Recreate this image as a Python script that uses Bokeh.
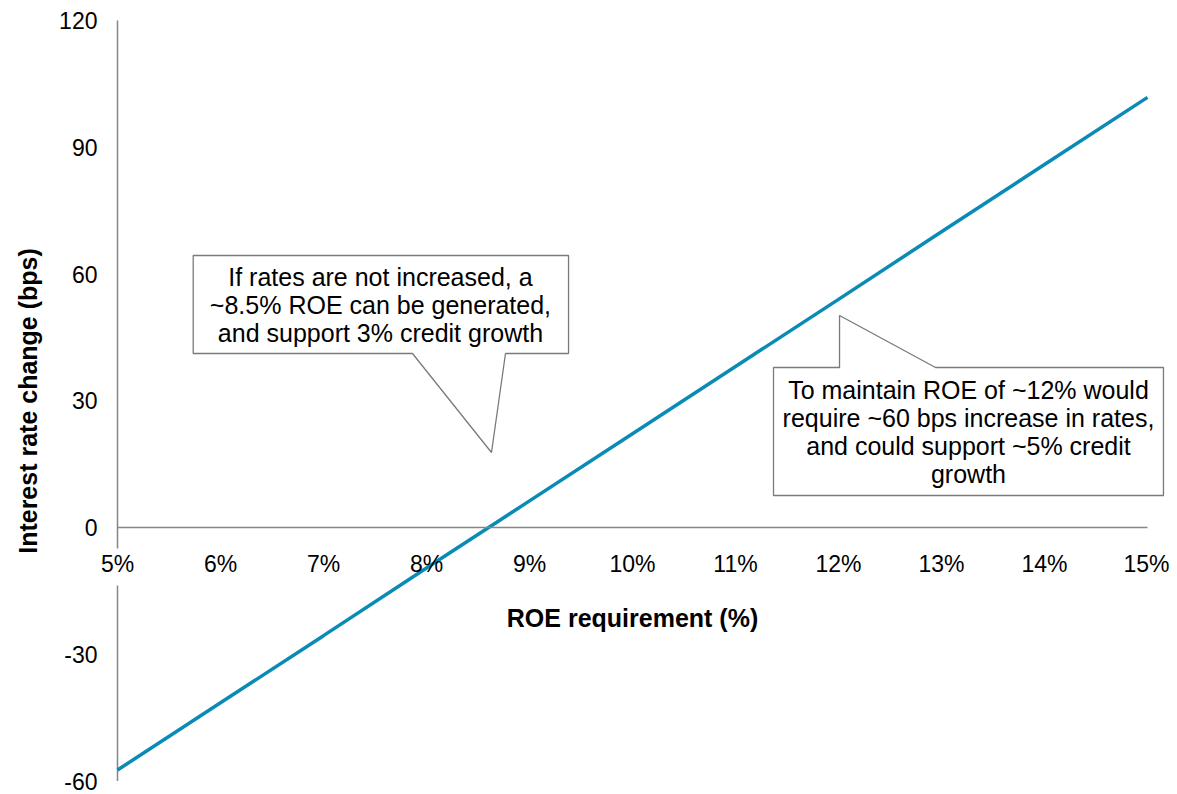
from bokeh.plotting import figure
from bokeh.models import LinearAxis, FixedTicker, PrintfTickFormatter, Range1d
from bokeh.embed import file_html
from bokeh.resources import INLINE
from bokeh.core.properties import value

# ---- data ----
roe_pct = [5, 6, 7, 8, 9, 10, 11, 12, 13, 14, 15]
rate_change_bps = [-57.4, -41.5, -25.6, -9.6, 6.3, 22.2, 38.1, 54.0, 70.0, 85.9, 101.8]
x_ticks = [5, 6, 7, 8, 9, 10, 11, 12, 13, 14, 15]
y_ticks = [-60, -30, 0, 30, 60, 90, 120]
x_title = "ROE requirement (%)"
y_title = "Interest rate change (bps)"
note_1 = "If rates are not increased, a\n~8.5% ROE can be generated,\nand support 3% credit growth"
note_2 = "To maintain ROE of ~12% would\nrequire ~60 bps increase in rates,\nand could support ~5% credit\ngrowth"

# ---- layout / style constants ----
FONT = "Liberation Sans"
AXIS_COLOR = "#868686"
LINE_COLOR = "#0A8BB5"
BOX_COLOR = "#7A7A7A"

# callout outlines (data coordinates)
callout1_x = [5.735, 9.379, 9.379, 8.767, 8.631, 7.864, 5.735]
callout1_y = [64.38, 64.38, 41.18, 41.18, 17.75, 41.18, 41.18]
callout2_x = [11.369, 12.010, 12.010, 12.942, 15.155, 15.155, 11.369]
callout2_y = [37.87, 37.87, 50.18, 37.87, 37.87, 7.57, 7.57]
text_x = [7.553, 13.262]
text_y = [52.78, 22.72]

p = figure(width=1169, height=794, output_backend="svg", toolbar_location=None,
           x_range=Range1d(3.8641, 15.2136), y_range=Range1d(-63.195, 124.734),
           x_axis_location=None, y_axis_location=None, min_border=0)
p.outline_line_color = None
p.xgrid.grid_line_color = None
p.ygrid.grid_line_color = None

# x axis crossing at y = 0
xa = LinearAxis(fixed_location=0, bounds=(5, 15), ticker=FixedTicker(ticks=x_ticks),
                formatter=PrintfTickFormatter(format="%d%%"))
xa.axis_line_color = AXIS_COLOR
xa.axis_line_width = 1.5
xa.major_tick_line_color = None
xa.minor_tick_line_color = None
xa.major_tick_out = 0
xa.major_tick_in = 0
xa.major_label_standoff = 23
xa.major_label_text_font = FONT
xa.major_label_text_font_size = "23px"
xa.major_label_text_color = "black"
xa.axis_label = x_title
xa.axis_label_text_font = FONT
xa.axis_label_text_font_size = "25px"
xa.axis_label_text_font_style = "bold"
xa.axis_label_text_color = "black"
xa.axis_label_standoff = 24
p.add_layout(xa, "below")

# y axis at x = 5%
ya = LinearAxis(fixed_location=5, bounds=(-60, 120), ticker=FixedTicker(ticks=y_ticks),
                formatter=PrintfTickFormatter(format="%d"))
ya.axis_line_color = None
ya.major_tick_line_color = None
ya.minor_tick_line_color = None
ya.major_tick_out = 0
ya.major_tick_in = 0
ya.major_label_standoff = 20
ya.major_label_text_font = FONT
ya.major_label_text_font_size = "23px"
ya.major_label_text_line_height = 1.0
ya.major_label_text_color = "black"
ya.axis_label = y_title
ya.axis_label_text_font = FONT
ya.axis_label_text_font_size = "25px"
ya.axis_label_text_font_style = "bold"
ya.axis_label_text_color = "black"
ya.axis_label_standoff = 14
p.add_layout(ya, "left")

# y axis line, interrupted behind the "5%" label
p.segment(x0=[5, 5], y0=[-60, -4.97], x1=[5, 5], y1=[-13.73, 120],
          line_color=AXIS_COLOR, line_width=1.5)

# data line
p.line(roe_pct, rate_change_bps, line_color=LINE_COLOR, line_width=3.5)

# callouts
p.patches([callout1_x, callout2_x], [callout1_y, callout2_y],
          fill_color="white", line_color=BOX_COLOR, line_width=1.3)
p.text(x=text_x, y=text_y, text=[note_1, note_2],
       text_font=value(FONT), text_font_size="25px", text_color="black",
       text_align="center", text_baseline="middle", text_line_height=1.0)

open("out.html", "w").write(file_html(p, INLINE))
